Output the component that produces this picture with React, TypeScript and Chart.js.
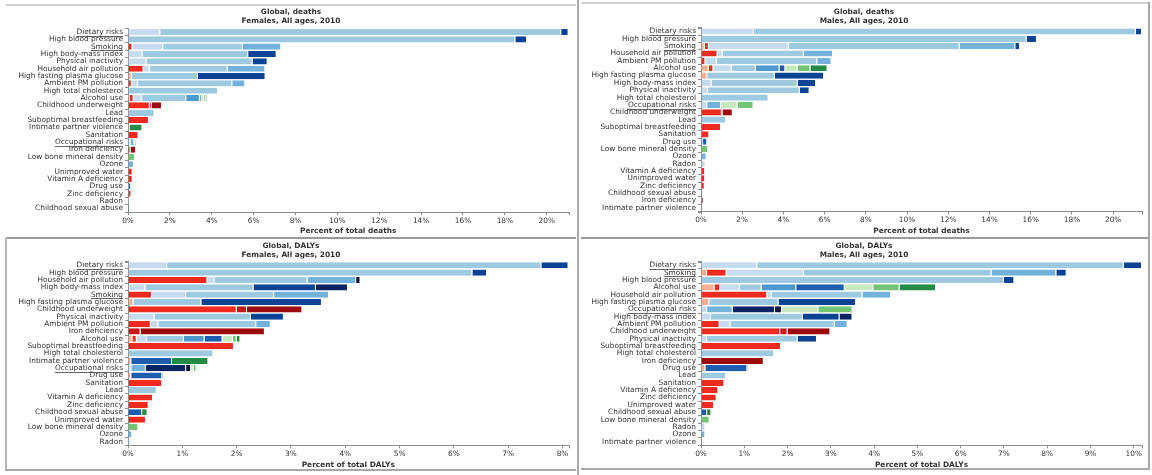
import React, { useEffect, useRef } from 'react';
import { Chart, registerables } from 'chart.js';

Chart.register(...registerables);

// ---------------- data ----------------
const causeKeys = ['hiv', 'comm', 'mat', 'nutr', 'neo', 'cvd', 'cresp', 'cirr', 'mental', 'diab', 'msk', 'othncd', 'trans', 'unint', 'intent'];
const causeNames = [
  'HIV/AIDS & tuberculosis', 'Diarrhea, LRI & other infectious', 'Maternal & neonatal', 'Nutritional deficiencies',
  'Neoplasms', 'Cardiovascular & circulatory', 'Chronic respiratory', 'Cirrhosis', 'Mental & behavioral',
  'Diabetes, urogenital, blood & endocrine', 'Musculoskeletal', 'Other non-communicable', 'Transport injuries',
  'Unintentional injuries', 'Intentional injuries',
];
const causeColors = ['#fcae91', '#ef2a1e', '#c9161a', '#9c0b0b', '#c6dbef', '#9ecae1', '#73b2da', '#4d99cf', '#1c5ead', '#0b4394', '#0a2463', '#09123f', '#c7e9c0', '#74c476', '#238b45'];

type Seg = Record<string, number>;

const underlinedRisks = ['Dietary risks', 'Smoking', 'Occupational risks'];

const femaleDeathsRisks = [
  'Dietary risks', 'High blood pressure', 'Smoking', 'High body-mass index', 'Physical inactivity',
  'Household air pollution', 'High fasting plasma glucose', 'Ambient PM pollution', 'High total cholesterol',
  'Alcohol use', 'Childhood underweight', 'Lead', 'Suboptimal breastfeeding', 'Intimate partner violence',
  'Sanitation', 'Occupational risks', 'Iron deficiency', 'Low bone mineral density', 'Ozone',
  'Unimproved water', 'Vitamin A deficiency', 'Drug use', 'Zinc deficiency', 'Radon', 'Childhood sexual abuse',
];
const femaleDeathsValues: Seg[] = [
  { neo: 1.54, cvd: 19.15, diab: 0.35 },
  { cvd: 18.5, diab: 0.56 },
  { comm: 0.21, neo: 1.47, cvd: 3.8, cresp: 1.84 },
  { neo: 0.69, cvd: 5.05, diab: 1.36 },
  { neo: 0.88, cvd: 5.07, diab: 0.72 },
  { comm: 0.74, neo: 0.3, cvd: 3.72, cresp: 1.8 },
  { hiv: 0.18, cvd: 3.16, diab: 3.23 },
  { comm: 0.18, neo: 0.3, cvd: 4.5, cresp: 0.62 },
  { cvd: 4.3 },
  { hiv: 0.07, comm: 0.2, neo: 0.39, cvd: 2.12, cirr: 0.65, mental: 0.07, trans: 0.14, unint: 0.1, intent: 0.04 },
  { comm: 1.04, mat: 0.09, nutr: 0.49 },
  { cvd: 1.27 },
  { comm: 1.0 },
  { hiv: 0.07, intent: 0.62 },
  { comm: 0.5 },
  { neo: 0.12, cresp: 0.18, trans: 0.05, unint: 0.06 },
  { mat: 0.12, nutr: 0.26 },
  { unint: 0.33 },
  { cresp: 0.28 },
  { comm: 0.22 },
  { comm: 0.22 },
  { cirr: 0.05, mental: 0.1 },
  { comm: 0.16 },
  { neo: 0.08 },
  { intent: 0.08 },
];

const maleDeathsRisks = [
  'Dietary risks', 'High blood pressure', 'Smoking', 'Household air pollution', 'Ambient PM pollution',
  'Alcohol use', 'High fasting plasma glucose', 'High body-mass index', 'Physical inactivity',
  'High total cholesterol', 'Occupational risks', 'Childhood underweight', 'Lead', 'Suboptimal breastfeeding',
  'Sanitation', 'Drug use', 'Low bone mineral density', 'Ozone', 'Radon', 'Vitamin A deficiency',
  'Unimproved water', 'Zinc deficiency', 'Childhood sexual abuse', 'Iron deficiency', 'Intimate partner violence',
];
const maleDeathsValues: Seg[] = [
  { neo: 2.57, cvd: 18.53, diab: 0.3 },
  { cvd: 15.8, diab: 0.5 },
  { hiv: 0.18, comm: 0.2, neo: 3.87, cvd: 8.3, cresp: 2.7, diab: 0.23 },
  { comm: 0.8, neo: 0.25, cvd: 3.94, cresp: 1.42 },
  { comm: 0.21, neo: 0.57, cvd: 4.86, cresp: 0.69 },
  { hiv: 0.37, comm: 0.23, neo: 0.89, cvd: 1.17, cirr: 1.15, mental: 0.28, trans: 0.6, unint: 0.62, intent: 0.83 },
  { hiv: 0.3, cvd: 3.28, diab: 2.39 },
  { neo: 0.51, cvd: 4.18, diab: 0.89 },
  { neo: 0.34, cvd: 4.45, diab: 0.48 },
  { cvd: 3.28 },
  { neo: 0.3, cresp: 0.67, trans: 0.8, unint: 0.78 },
  { comm: 1.01, mat: 0.05, nutr: 0.48 },
  { cvd: 1.22 },
  { comm: 0.97 },
  { comm: 0.4 },
  { hiv: 0.04, cirr: 0.06, mental: 0.2 },
  { unint: 0.35 },
  { cresp: 0.27 },
  { neo: 0.22 },
  { comm: 0.2 },
  { comm: 0.2 },
  { comm: 0.18 },
  { intent: 0.07 },
  { mat: 0.04, nutr: 0.08 },
  {},
];

const femaleDalysRisks = [
  'Dietary risks', 'High blood pressure', 'Household air pollution', 'High body-mass index', 'Smoking',
  'High fasting plasma glucose', 'Childhood underweight', 'Physical inactivity', 'Ambient PM pollution',
  'Iron deficiency', 'Alcohol use', 'Suboptimal breastfeeding', 'High total cholesterol',
  'Intimate partner violence', 'Occupational risks', 'Drug use', 'Sanitation', 'Lead',
  'Vitamin A deficiency', 'Zinc deficiency', 'Childhood sexual abuse', 'Unimproved water',
  'Low bone mineral density', 'Ozone', 'Radon',
];
const femaleDalysValues: Seg[] = [
  { neo: 0.72, cvd: 6.89, diab: 0.5 },
  { cvd: 6.34, diab: 0.27 },
  { comm: 1.46, neo: 0.14, cvd: 1.71, cresp: 0.89, othncd: 0.08 },
  { neo: 0.32, cvd: 1.99, diab: 1.15, msk: 0.59 },
  { comm: 0.44, neo: 0.63, cvd: 1.62, cresp: 1.01 },
  { hiv: 0.1, cvd: 1.25, diab: 2.22 },
  { comm: 2.0, mat: 0.19, nutr: 1.02 },
  { neo: 0.49, cvd: 1.77, diab: 0.61 },
  { comm: 0.42, neo: 0.14, cvd: 1.8, cresp: 0.27 },
  { mat: 0.23, nutr: 2.29 },
  { hiv: 0.08, comm: 0.08, neo: 0.19, cvd: 0.68, cirr: 0.38, mental: 0.33, trans: 0.19, unint: 0.07, intent: 0.07 },
  { comm: 1.95 },
  { cvd: 1.57 },
  { hiv: 0.06, mental: 0.75, intent: 0.67 },
  { neo: 0.06, cresp: 0.27, msk: 0.74, othncd: 0.09, trans: 0.05, unint: 0.05 },
  { hiv: 0.06, mental: 0.57, unint: 0.03 },
  { comm: 0.63 },
  { cvd: 0.53 },
  { comm: 0.46 },
  { comm: 0.38 },
  { mental: 0.26, intent: 0.1 },
  { comm: 0.33 },
  { unint: 0.19 },
  { cresp: 0.08 },
  { neo: 0.05 },
];

const maleDalysRisks = [
  'Dietary risks', 'Smoking', 'High blood pressure', 'Alcohol use', 'Household air pollution',
  'High fasting plasma glucose', 'Occupational risks', 'High body-mass index', 'Ambient PM pollution',
  'Childhood underweight', 'Physical inactivity', 'Suboptimal breastfeeding', 'High total cholesterol',
  'Iron deficiency', 'Drug use', 'Lead', 'Sanitation', 'Vitamin A deficiency', 'Zinc deficiency',
  'Unimproved water', 'Childhood sexual abuse', 'Low bone mineral density', 'Radon', 'Ozone',
  'Intimate partner violence',
];
const maleDalysValues: Seg[] = [
  { neo: 1.3, cvd: 8.47, diab: 0.42 },
  { hiv: 0.14, comm: 0.45, neo: 1.79, cvd: 4.33, cresp: 1.5, diab: 0.24 },
  { cvd: 7.0, diab: 0.24 },
  { hiv: 0.31, comm: 0.13, neo: 0.46, cvd: 0.5, cirr: 0.8, mental: 1.12, trans: 0.66, unint: 0.61, intent: 0.84 },
  { comm: 1.53, neo: 0.11, cvd: 2.09, cresp: 0.66 },
  { hiv: 0.19, cvd: 1.6, diab: 1.79 },
  { neo: 0.14, cresp: 0.59, msk: 0.98, othncd: 0.16, trans: 0.84, unint: 0.79 },
  { neo: 0.23, cvd: 2.12, diab: 0.85, msk: 0.3 },
  { comm: 0.43, neo: 0.25, cvd: 2.41, cresp: 0.3 },
  { comm: 1.83, mat: 0.17, nutr: 0.99 },
  { neo: 0.14, cvd: 2.09, diab: 0.45 },
  { comm: 1.85 },
  { cvd: 1.69 },
  { nutr: 1.45 },
  { hiv: 0.1, mental: 0.97, unint: 0.03 },
  { cvd: 0.58 },
  { comm: 0.54 },
  { comm: 0.4 },
  { comm: 0.36 },
  { comm: 0.3 },
  { mental: 0.14, intent: 0.1 },
  { unint: 0.2 },
  { neo: 0.1 },
  { cresp: 0.1 },
  {},
];

// ---------------- layout ----------------
const FONT = '"DejaVu Sans", Verdana, sans-serif';
const FS = 7.4;
const TEXT = '#333333';
const AXIS = '#8c8c8c';

type Panel = {
  title: string; subtitle: string; axisTitle: string; risks: string[]; values: Seg[]; step: number;
  box: { x: number; y: number; w: number; h: number };
  area: { left: number; right: number; top: number; bottom: number };
};

const panels: Panel[] = [
  {
    title: 'Global, deaths', subtitle: 'Females, All ages, 2010', axisTitle: 'Percent of total deaths',
    risks: femaleDeathsRisks, values: femaleDeathsValues, step: 2,
    box: { x: 6, y: 6, w: 570, h: 230 }, area: { left: 128, right: 568.5, top: 28.3, bottom: 212 },
  },
  {
    title: 'Global, deaths', subtitle: 'Males, All ages, 2010', axisTitle: 'Percent of total deaths',
    risks: maleDeathsRisks, values: maleDeathsValues, step: 2,
    box: { x: 580, y: 6, w: 568, h: 230 }, area: { left: 701, right: 1142, top: 27.8, bottom: 211.5 },
  },
  {
    title: 'Global, DALYs', subtitle: 'Females, All ages, 2010', axisTitle: 'Percent of total DALYs',
    risks: femaleDalysRisks, values: femaleDalysValues, step: 1,
    box: { x: 6, y: 239, w: 570, h: 230 }, area: { left: 128, right: 568.5, top: 261.6, bottom: 445.3 },
  },
  {
    title: 'Global, DALYs', subtitle: 'Males, All ages, 2010', axisTitle: 'Percent of total DALYs',
    risks: maleDalysRisks, values: maleDalysValues, step: 1,
    box: { x: 580, y: 239, w: 568, h: 230 }, area: { left: 701, right: 1142, top: 261.6, bottom: 445.3 },
  },
];

const decorPlugin = {
  id: 'decor',
  afterDraw(chart: any, _args: any, opts: any) {
    const { ctx, chartArea: ca } = chart;
    ctx.save();
    ctx.fillStyle = TEXT;
    ctx.textAlign = 'center';
    ctx.textBaseline = 'middle';
    ctx.font = `bold ${FS}px ${FONT}`;
    const cx = chart.width / 2;
    ctx.fillText(opts.title, cx, ca.top - 16);
    ctx.fillText(opts.subtitle, cx, ca.top - 6.8);
    ctx.fillText(opts.axisTitle, (ca.left + ca.right) / 2, ca.bottom + 19.5);
    // underlined (expandable) risk labels
    ctx.font = `${FS}px ${FONT}`;
    const ys = chart.scales.y;
    const labels: string[] = chart.data.labels;
    labels.forEach((lab, i) => {
      if (underlinedRisks.includes(lab)) {
        const w = ctx.measureText(lab).width;
        const yy = Math.round(ys.getPixelForTick(i) + 3.6) + 0.1;
        const xr = ca.left - 5;
        ctx.fillStyle = '#555';
        ctx.fillRect(xr - w, yy, w, 0.9);
      }
    });
    // outer ticks of the axis domains
    ctx.strokeStyle = AXIS;
    ctx.lineWidth = 1;
    ctx.beginPath();
    ctx.moveTo(ca.left - 3, Math.round(ca.top) + 0.5);
    ctx.lineTo(ca.left, Math.round(ca.top) + 0.5);
    ctx.moveTo(ca.left - 3, Math.round(ca.bottom) + 0.5);
    ctx.lineTo(ca.left, Math.round(ca.bottom) + 0.5);
    ctx.moveTo(Math.round(ca.right) + 0.5, ca.bottom);
    ctx.lineTo(Math.round(ca.right) + 0.5, ca.bottom + 3);
    ctx.stroke();
    ctx.restore();
  },
};

function RiskChart({ p }: { p: Panel }) {
  const ref = useRef<HTMLCanvasElement | null>(null);
  useEffect(() => {
    if (!ref.current) return;
    const totals = p.values.map((s) => Object.values(s).reduce((a, b) => a + b, 0));
    const maxTotal = Math.max(...totals);
    const datasets = causeKeys.map((k, ci) => ({
      label: causeNames[ci],
      data: p.values.map((s) => (s[k] ? s[k] : null)),
      backgroundColor: causeColors[ci],
      borderColor: '#ffffff',
      borderWidth: { top: 0, bottom: 0, left: 0, right: 1 },
      borderSkipped: false,
      barPercentage: 0.84,
      categoryPercentage: 1,
    }));
    const b = p.box;
    const ca = p.area;
    const xHeight = 14;
    const font = { family: FONT, size: FS };
    const chart = new Chart(ref.current, {
      type: 'bar',
      data: { labels: p.risks, datasets },
      options: {
        indexAxis: 'y',
        responsive: false,
        maintainAspectRatio: false,
        animation: false,
        layout: {
          autoPadding: false,
          padding: {
            left: 0,
            right: b.x + b.w - ca.right,
            top: ca.top - b.y,
            bottom: b.y + b.h - ca.bottom - xHeight,
          },
        },
        plugins: {
          legend: { display: false },
          tooltip: { enabled: false },
          title: { display: false },
          decor: { title: p.title, subtitle: p.subtitle, axisTitle: p.axisTitle },
        },
        scales: {
          x: {
            type: 'linear',
            stacked: true,
            min: 0,
            max: maxTotal,
            afterFit: (s: any) => { s.height = xHeight; },
            afterBuildTicks: (s: any) => {
              const t: { value: number }[] = [];
              for (let v = 0; v <= maxTotal + 1e-9; v += p.step) t.push({ value: v });
              s.ticks = t;
            },
            grid: { drawOnChartArea: false, drawTicks: true, tickLength: 3, color: AXIS },
            border: { display: true, color: AXIS, width: 1 },
            ticks: {
              stepSize: p.step, padding: 1.5, font, color: TEXT, maxRotation: 0, autoSkip: false,
              callback: (v: any) => `${v}%`,
            },
          },
          y: {
            type: 'category',
            stacked: true,
            afterFit: (s: any) => { s.width = ca.left - b.x; },
            grid: { drawOnChartArea: false, drawTicks: true, tickLength: 3, color: AXIS },
            border: { display: true, color: AXIS, width: 1 },
            ticks: { autoSkip: false, padding: 2, font, color: TEXT },
          },
        },
      } as any,
      plugins: [decorPlugin as any],
    });
    return () => chart.destroy();
  }, [p]);
  return (
    <canvas
      ref={ref}
      width={p.box.w}
      height={p.box.h}
      style={{ position: 'absolute', left: p.box.x, top: p.box.y, width: p.box.w, height: p.box.h }}
    />
  );
}

const line = (left: number, top: number, width: number, height: number, bg: string) => (
  <div style={{ position: 'absolute', left, top, width, height, background: bg }} />
);

export default function App() {
  return (
    <div style={{ position: 'absolute', left: 0, top: 0, width: 1152, height: 475, background: '#ffffff', overflow: 'hidden' }}>
      {panels.map((p, i) => <RiskChart key={i} p={p} />)}
      {line(6, 4, 570, 2, '#d2d2d2')}
      {line(581, 2, 567, 2, '#d2d2d2')}
      {line(576.5, 0, 2, 475, '#a8a8a8')}
      {line(5, 236.5, 571, 2, '#9a9a9a')}
      {line(581, 236.5, 568, 2, '#9a9a9a')}
      {line(1148, 2, 2, 468, '#a8a8a8')}
      {line(5, 237, 2, 233, '#b8b8b8')}
      {line(5, 469, 571, 2, '#a8a8a8')}
      {line(581, 468, 568, 2, '#a8a8a8')}
    </div>
  );
}
